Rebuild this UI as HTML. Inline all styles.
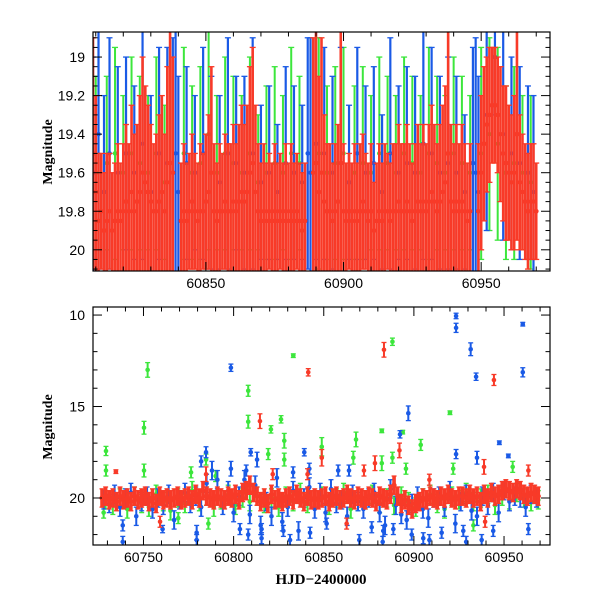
<!DOCTYPE html>
<html><head><meta charset="utf-8"><style>
html,body{margin:0;padding:0;background:#fff;}
svg{display:block;font-family:"Liberation Sans",sans-serif;}
</style></head><body>
<svg id="chart" width="600" height="600" viewBox="0 0 600 600" xmlns="http://www.w3.org/2000/svg">
<defs>
<clipPath id="clipTop"><rect x="93" y="32" width="457" height="239"/></clipPath>
<clipPath id="clipBot"><rect x="93" y="307" width="457" height="238"/></clipPath>
</defs>
<g id="topData" clip-path="url(#clipTop)"></g>
<g id="botData" clip-path="url(#clipBot)"></g>
<g id="axes"></g>
<text x="30" y="152" transform="rotate(-90 48 152)" font-size="14" font-weight="bold" text-anchor="middle" font-family="Liberation Serif, serif" dx="18" dy="4">Magnitude</text>
<text x="30" y="427" transform="rotate(-90 48 427)" font-size="14" font-weight="bold" text-anchor="middle" font-family="Liberation Serif, serif" dx="18" dy="4">Magnitude</text>
<text x="321" y="584" font-size="15" font-weight="bold" text-anchor="middle" font-family="Liberation Serif, serif">HJD−2400000</text>
</svg>
<script>
// ---------- TOP PANEL DATA ----------
const topRedStart = 60809;
const topRedMag = [19.5,19.7,19.85,19.8,19.9,19.85,19.8,19.9,19.85,19.8,
19.85,19.8,19.75,19.8,19.7,19.8,19.75,19.7,19.6,19.65,
19.7,19.75,19.8,19.8,19.75,19.7,19.8,19.65,19.55,19.6,
null,null,19.85,19.8,19.85,19.8,19.75,19.8,19.85,19.8,
19.8,19.75,19.7,19.6,19.8,19.85,19.8,19.8,19.75,19.8,
19.8,19.75,19.8,19.75,19.7,19.75,19.7,19.6,19.55,19.7,
19.8,19.85,19.8,19.85,19.8,19.85,19.8,19.85,19.8,19.85,
19.8,19.85,19.8,19.85,19.8,19.85,19.9,19.85,null,null,
19.6,19.55,19.7,19.6,19.75,19.8,19.8,19.85,19.8,19.75,
19.55,19.8,19.85,19.8,19.85,19.8,19.85,19.8,19.75,19.8,
19.85,19.8,19.9,19.85,19.8,19.85,19.8,19.8,19.85,19.8,
19.8,19.75,19.8,19.8,19.75,19.8,19.85,19.8,19.75,19.8,
19.75,19.8,19.75,19.7,19.75,19.8,19.75,19.7,19.65,19.5,
19.75,19.8,19.75,19.8,19.75,19.8,19.85,19.8,null,null,
19.8,19.6,19.45,19.35,19.3,19.25,19.25,19.3,19.4,19.5,
19.55,19.6,19.65,19.6,19.4,19.65,19.7,19.75,19.8,19.75,
19.75,19.8];
const topRedErr = [0.6,0.5,0.35,0.3,0.3,0.35,0.3,0.3,0.3,0.35,
0.3,0.35,0.4,0.35,0.45,0.4,0.4,0.5,0.6,0.5,
0.45,0.4,0.35,0.4,0.45,0.5,0.4,0.6,0.7,0.6,
0,0,0.3,0.35,0.3,0.3,0.35,0.3,0.3,0.35,
0.3,0.35,0.4,0.55,0.35,0.3,0.35,0.3,0.35,0.35,
0.35,0.4,0.35,0.4,0.45,0.4,0.45,0.55,0.6,0.45,
0.35,0.3,0.35,0.3,0.3,0.3,0.35,0.3,0.3,0.3,
0.35,0.3,0.35,0.3,0.3,0.3,0.3,0.3,0,0,
0.7,0.75,0.6,0.7,0.45,0.35,0.35,0.3,0.35,0.4,
0.7,0.35,0.3,0.3,0.3,0.35,0.3,0.35,0.35,0.3,
0.3,0.35,0.25,0.3,0.35,0.3,0.35,0.3,0.3,0.35,
0.35,0.4,0.35,0.35,0.4,0.35,0.3,0.35,0.4,0.35,
0.4,0.35,0.4,0.45,0.4,0.35,0.4,0.45,0.5,0.65,
0.4,0.35,0.4,0.35,0.4,0.35,0.3,0.35,0,0,
0.35,0.4,0.4,0.35,0.35,0.3,0.3,0.3,0.35,0.35,
0.4,0.35,0.35,0.4,0.55,0.35,0.3,0.3,0.3,0.3,
0.3,0.25];
const topBlueDay = [60809,60811,60813,60815,60818,60821,60824,60827,60830,60833,60836,60838,60839,60840,60843,60846,60849,60852,60855,60858,60861,60864,60867,60870,60873,60876,60879,60882,60885,60887,60888,60890,60893,60896,60899,60902,60905,60908,60911,60914,60917,60920,60923,60926,60929,60932,60935,60938,60941,60944,60947,60948,60949,60952,60955,60958,60961,60964,60967,60969];
const topBlueMag = [19.6,19.4,19.7,19.5,19.6,19.5,19.6,19.45,19.7,19.5,19.55,19.6,19.5,19.7,19.55,19.6,19.5,19.6,19.65,19.5,19.55,19.6,19.5,19.65,19.6,19.7,19.55,19.6,19.65,19.5,19.6,19.45,19.5,19.6,19.55,19.65,19.5,19.6,19.55,19.7,19.5,19.6,19.55,19.6,19.45,19.5,19.6,19.55,19.6,19.7,19.55,19.6,19.7,19.3,19.0,19.4,19.5,19.55,19.6,19.7];
const topBlueErr = [0.6,0.7,0.5,0.6,0.55,0.5,0.45,0.6,0.5,0.55,0.6,0.7,0.8,0.6,0.5,0.4,0.55,0.5,0.45,0.6,0.45,0.5,0.6,0.4,0.45,0.35,0.5,0.45,0.4,0.6,0.7,0.6,0.55,0.5,0.6,0.4,0.55,0.45,0.5,0.4,0.6,0.45,0.5,0.5,0.6,0.55,0.5,0.55,0.5,0.4,0.6,0.7,0.6,0.6,0.3,0.55,0.5,0.5,0.45,0.5];
const topGreenDay = [60810,60814,60817,60820,60823,60826,60829,60832,60835,60842,60845,60848,60851,60854,60857,60860,60863,60866,60869,60872,60875,60878,60881,60884,60891,60894,60897,60900,60904,60907,60910,60913,60916,60919,60922,60925,60928,60931,60934,60937,60940,60943,60946,60950,60953,60956,60959,60962,60965,60968];
const topGreenMag = [19.6,19.55,19.5,19.6,19.5,19.55,19.6,19.5,19.65,19.5,19.6,19.55,19.4,19.6,19.5,19.55,19.6,19.5,19.65,19.6,19.55,19.6,19.5,19.55,19.5,19.6,19.55,19.5,19.6,19.55,19.6,19.5,19.55,19.6,19.5,19.55,19.6,19.5,19.55,19.6,19.5,19.55,19.6,19.5,19.4,19.45,19.6,19.55,19.6,19.65];
const topGreenErr = [0.5,0.45,0.55,0.4,0.5,0.45,0.4,0.5,0.4,0.55,0.45,0.5,0.6,0.4,0.5,0.45,0.4,0.5,0.35,0.45,0.5,0.4,0.55,0.45,0.6,0.45,0.5,0.55,0.45,0.5,0.4,0.5,0.45,0.4,0.5,0.45,0.4,0.55,0.45,0.4,0.5,0.45,0.4,0.55,0.5,0.5,0.45,0.5,0.4,0.45];
const topXTicks = [60850,60900,60950];
const topYTicks = [19,19.2,19.4,19.6,19.8,20];

// ---------- BOTTOM PANEL DATA ----------
const botRedStart = 60727, botRedStep = 2;
const botRedMag = [20.0,19.9,20.1,20.0,20.2,19.9,20.1,20.0,20.2,19.9,
20.1,20.0,19.9,20.2,20.0,20.3,19.9,20.1,20.0,20.1,
20.0,19.9,20.1,20.0,19.9,20.1,19.8,20.0,19.6,19.9,
20.0,20.1,19.9,20.0,20.1,19.9,20.0,19.8,20.1,19.7,
19.6,19.3,19.7,19.9,20.2,20.0,20.3,19.8,20.1,20.0,
20.2,20.0,19.9,20.1,19.8,20.0,20.2,19.9,20.1,20.0,
20.1,20.0,19.9,20.2,20.0,19.9,20.1,20.0,19.8,20.0,
20.1,19.9,20.0,20.1,19.9,20.0,20.2,19.9,20.0,20.1,
19.8,19.3,19.9,20.3,20.1,20.4,20.6,20.3,20.2,20.0,
20.1,19.9,20.0,20.1,19.9,20.0,19.8,20.0,20.1,19.9,
19.9,20.0,19.8,20.0,19.9,20.2,19.8,20.0,19.7,19.9,
19.8,19.6,19.5,19.6,19.7,19.5,19.6,19.8,19.9,19.7,
19.8,19.9];
const botBlueStart = 60728, botBlueStep = 3;
const botBlueMag = [20.1,20.3,19.8,20.5,20.0,19.7,21.0,20.2,19.9,20.6,
20.0,20.4,19.8,21.2,20.1,19.7,20.3,19.9,20.5,19.2,
18.5,19.0,20.4,19.6,20.8,19.9,19.0,20.9,19.3,21.5,
20.2,21.0,18.9,21.3,20.5,19.6,21.8,20.0,19.4,20.6,
19.7,20.8,19.5,20.3,20.1,21.0,19.8,20.2,20.6,20.0,
19.7,20.8,21.5,19.5,20.4,20.9,21.2,20.3,19.9,20.6,
21.1,20.0,19.9,20.5,19.6,21.4,20.2,19.8,20.7,21.0,
19.9,20.4,19.7,20.8,19.6,20.2,19.9,20.0,20.5,19.8,
20.0];
const botGreenStart = 60729, botGreenStep = 4;
const botGreenMag = [20.1,20.4,20.0,20.6,19.9,20.3,20.5,19.8,20.2,20.7,
20.0,20.3,19.6,20.2,19.9,20.5,20.1,19.8,20.4,20.0,
20.2,19.9,20.3,20.0,20.5,19.9,20.2,19.7,20.3,20.1,
19.9,20.4,20.0,19.7,20.6,20.2,20.1,19.8,20.3,20.0,
20.4,19.9,20.2,20.5,20.0,19.8,20.3,20.6,19.9,20.1,
19.7,20.2,20.0,19.8,20.4,19.9,20.1,19.7,20.0,20.2,
20.1];
const bandErr = 0.5;
const outBlueDay = [60798.5,60923.4,60923.4,60931.5,60934.5,60960.4,60960.4,60896.9,60892.3,60947.4,60952.4,60839.2,60809.5,60784.7,60923.4,60935,60798.5,60807,60782,60813,60833,60842,60858,60864,
60738.5,60738.5,60760.6,60779.5,60779.5,60803.5,60808.1,60815.5,60815.5,60827.6,60831.3,60842.4,60851.6,60869.7,60876.6,60882.7,60883,60888.6,60898.8,60905.2,60908.6,60915.4,60927.4,60929,60937.6,60944,60963.5];
const outBlueMag = [12.88,10.05,10.7,11.87,13.37,10.5,13.13,15.37,16.52,16.98,17.7,17.5,17.5,17.5,17.6,17.8,18.4,18.5,18.0,17.9,18.6,18.4,18.5,18.5,
21.5,22.4,21.7,21.9,22.3,21.7,22.0,21.7,22.2,21.8,22.3,21.9,21.4,22.3,21.6,22.4,21.8,21.7,22.0,22.2,22.3,21.9,21.8,22.4,22.3,21.8,21.7];
const outBlueErr = [0.2,0.15,0.25,0.35,0.2,0.1,0.25,0.4,0.2,0.1,0.1,0.2,0.2,0.3,0.25,0.35,0.4,0.3,0.3,0.4,0.3,0.3,0.3,0.3,
0.3,0.3,0.2,0.4,0.3,0.3,0.3,0.3,0.3,0.3,0.3,0.3,0.3,0.3,0.3,0.3,0.3,0.3,0.3,0.3,0.3,0.3,0.3,0.3,0.3,0.3,0.3];
const outGreenDay = [60752.3,60750.3,60750.3,60729.2,60729.2,60808.1,60808.1,60833.1,60826.3,60820.7,60828.1,60828.1,60819.2,60888.1,60882.2,60893.8,60920,60903.8,60867.9,60848.9,60888.1,60882.2,60866.4,60776.4,60790,60954.8,60895.6,60921.8,60784.7,60727.9,60769.3,60786,60933];
const outGreenMag = [13.0,16.16,18.5,17.43,18.5,14.14,15.83,12.22,15.7,16.25,16.87,17.9,17.6,11.46,16.33,16.4,15.34,17.1,16.8,17.2,17.8,18.1,17.8,18.6,18.8,18.3,18.4,18.4,17.9,20.8,21.1,21.4,21.5];
const outGreenErr = [0.4,0.35,0.35,0.25,0.3,0.3,0.35,0.1,0.2,0.2,0.4,0.35,0.3,0.2,0.1,0.1,0.1,0.3,0.4,0.5,0.3,0.4,0.35,0.3,0.3,0.3,0.3,0.3,0.3,0.3,0.3,0.3,0.3];
const outRedDay = [60734.7,60841.4,60883.4,60944.4,60814.6,60848.9,60821.7,60872.3,60878.4,60892,60938.9,60908.6,60784.7,60963.5,60841,60759.2,60862.7,60939.5];
const outRedMag = [18.56,13.13,11.9,13.55,15.8,17.8,18.7,18.5,18.1,17.4,18.3,19.0,18.7,18.5,18.7,21.3,21.4,21.3];
const outRedErr = [0.1,0.2,0.4,0.3,0.4,0.45,0.3,0.3,0.4,0.4,0.4,0.3,0.4,0.3,0.3,0.3,0.3,0.3];
const botXTicks = [60750,60800,60850,60900,60950];
const botYTicks = [10,15,20];

const RED = "#f83a28", BLUE = "#1a5ae6", GREEN = "#3ce63c";
const NS = "http://www.w3.org/2000/svg";

function mkScale(d0,d1,r0,r1){ return v => r0 + (v-d0)/(d1-d0)*(r1-r0); }
const topBox = {x0:93,x1:550,y0:32,y1:271};
const botBox = {x0:93,x1:550,y0:307,y1:545};
const txS = mkScale(60809,60975,topBox.x0,topBox.x1);
const tyS = mkScale(18.87,20.11,topBox.y0,topBox.y1);
const bxS = mkScale(60722,60975.5,botBox.x0,botBox.x1);
const byS = mkScale(9.56,22.57,botBox.y0,botBox.y1);

function el(tag, attrs, parent){
  const e = document.createElementNS(NS, tag);
  for (const k in attrs) e.setAttribute(k, attrs[k]);
  parent.appendChild(e);
  return e;
}
function point(g, xs, ys, t, m, err, color, lw, cap, r){
  const x = xs(t), yt = ys(m-err), yb = ys(m+err), y = ys(m);
  const grp = document.createElementNS(NS,'g');
  
  
  el('line',{x1:x,x2:x,y1:yt,y2:yb,stroke:color,'stroke-width':lw},grp);
  el('line',{x1:x-cap,x2:x+cap,y1:yt,y2:yt,stroke:color,'stroke-width':1.3},grp);
  el('line',{x1:x-cap,x2:x+cap,y1:yb,y2:yb,stroke:color,'stroke-width':1.3},grp);
  el('circle',{cx:x,cy:y,r:r,fill:color},grp);
  g.appendChild(grp);
}
const gT = document.getElementById('topData');
const gB = document.getElementById('botData');

topGreenDay.forEach((d,i)=>point(gT,txS,tyS,d,topGreenMag[i],topGreenErr[i],GREEN,2,3,2.3));
topBlueDay.forEach((d,i)=>point(gT,txS,tyS,d,topBlueMag[i],topBlueErr[i],BLUE,2.2,3,2.3));
topRedMag.forEach((m,i)=>{ if(m!==null) point(gT,txS,tyS,topRedStart+i,m,topRedErr[i],RED,2.6,3,2.4); });

botGreenMag.forEach((m,i)=>point(gB,bxS,byS,botGreenStart+i*botGreenStep,m,bandErr,GREEN,2,2.5,2.3));
outGreenDay.forEach((d,i)=>point(gB,bxS,byS,d,outGreenMag[i],outGreenErr[i],GREEN,2,2.5,2.3));
botBlueMag.forEach((m,i)=>point(gB,bxS,byS,botBlueStart+i*botBlueStep,m,bandErr,BLUE,2,2.5,2.3));
outBlueDay.forEach((d,i)=>point(gB,bxS,byS,d,outBlueMag[i],outBlueErr[i],BLUE,2,2.5,2.3));
botRedMag.forEach((m,i)=>point(gB,bxS,byS,botRedStart+i*botRedStep,m,bandErr,RED,3.6,2.5,2.6));
outRedDay.forEach((d,i)=>point(gB,bxS,byS,d,outRedMag[i],outRedErr[i],RED,2,2.5,2.3));

const gA = document.getElementById('axes');
function frame(p, xs, ys, xd0, xd1, xMaj, xMin, yd0, yd1, yMaj, yMin, xTicks, yTicks, yFmt, name){
  const f = el('rect',{x:p.x0,y:p.y0,width:p.x1-p.x0,height:p.y1-p.y0,fill:'none',stroke:'#000','stroke-width':1.2},gA);
  
  
  for(let k=Math.ceil(xd0/xMin); k*xMin<=xd1; k++){
    const v = k*xMin; const x = xs(v); const major = (v % xMaj)===0; const L = major?9:4.5;
    el('line',{x1:x,x2:x,y1:p.y1,y2:p.y1-L,stroke:'#000','stroke-width':1},gA);
    el('line',{x1:x,x2:x,y1:p.y0,y2:p.y0+L,stroke:'#000','stroke-width':1},gA);
  }
  for(let k=Math.ceil(yd0/yMin-1e-6); k*yMin<=yd1+1e-9; k++){
    const v = k*yMin; const y = ys(v); const major = Math.abs(v/yMaj-Math.round(v/yMaj))<1e-6; const L = major?9:4.5;
    el('line',{x1:p.x0,x2:p.x0+L,y1:y,y2:y,stroke:'#000','stroke-width':1},gA);
    el('line',{x1:p.x1,x2:p.x1-L,y1:y,y2:y,stroke:'#000','stroke-width':1},gA);
  }
  xTicks.forEach(v=>{
    const t = el('text',{x:xs(v),y:p.y1+17,'font-size':14,'text-anchor':'middle'},gA);
    t.textContent = v;
    
    
  });
  yTicks.forEach(v=>{
    const t = el('text',{x:p.x0-8,y:ys(v)+5,'font-size':14,'text-anchor':'end'},gA);
    t.textContent = yFmt(v);
    
    
  });
}
frame(topBox, txS, tyS, 60809, 60975, 50, 10, 18.87, 20.11, 0.2, 0.05, topXTicks, topYTicks, v=>String(+v.toFixed(1)), 'top-panel');
frame(botBox, bxS, byS, 60722, 60975.5, 50, 10, 9.56, 22.57, 5, 1, botXTicks, botYTicks, v=>String(v), 'bottom-panel');
</script>
</body></html>
